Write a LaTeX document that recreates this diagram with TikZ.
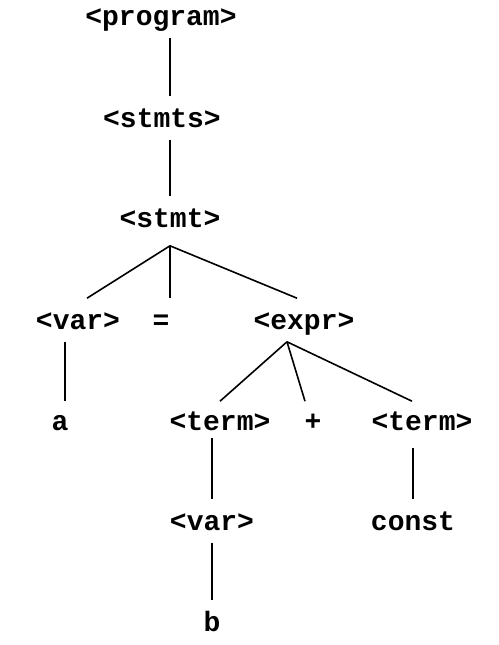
\documentclass[tikz,border=0pt]{standalone}
\usepackage{fontspec}
\setmonofont{Liberation Mono}
\usepackage{tikz}
\usetikzlibrary{positioning, calc}
\tikzset{>=stealth}
\tikzset{sym/.style={font=\ttfamily\bfseries\fontsize{28}{28}\selectfont, inner xsep=0pt, inner ysep=11pt, text height=19pt, text depth=1pt}}

\begin{document}
\begin{tikzpicture}[x=1pt, y=-1pt, line width=1.6pt]
		\useasboundingbox (0,0) rectangle (498,645);

		\node [sym] (prog) at (161,16) {<program>};
		\node [sym] (stmts) at (162,118) {<stmts>};
		\node [sym] (stmt) at (170,218) {<stmt>};

		\node [sym] (var) at (78,320) {<var>};
		\node [sym] (eq) at (161,320) {=};
		\node [sym] (expr) at (304,320) {<expr>};

		\node [sym] (a) at (60,421) {a};
		\node [sym] (term) at (220,421) {<term>};
		\node [sym] (plus) at (313,421) {+};
		\node [sym] (termb) at (422,421) {<term>};

		\node [sym] (varb) at (212,521) {<var>};
		\node [sym] (const) at (413,521) {const};
		\node [sym] (b) at (212,622) {b};

		\draw (prog.south -| stmt) -- (stmts.north -| stmt);
		\draw (stmts.south -| stmt) -- (stmt.north);

		\draw ([yshift=-6pt]stmt.south) -- ([xshift=9pt]var.north);
		\draw ([yshift=-6pt]stmt.south) -- (eq.north -| stmt);
		\draw ([yshift=-6pt]stmt.south) -- ([xshift=-7pt]expr.north);

		\draw ([xshift=-13pt]var.south) -- ([xshift=5pt,yshift=-2pt]a.north);
		\draw ([xshift=-17pt]expr.south) -- ([yshift=-2pt]term.north);
		\draw ([xshift=-17pt]expr.south) -- ([xshift=-8pt,yshift=-2pt]plus.north);
		\draw ([xshift=-17pt]expr.south) -- ([xshift=-10pt,yshift=-2pt]termb.north);

		\draw ([yshift=5pt]term.south -| varb) -- (varb.north);
		\draw ([yshift=-5pt]termb.south -| const) -- (const.north);
		\draw (varb.south) -- (b.north);
\end{tikzpicture}
\end{document}
